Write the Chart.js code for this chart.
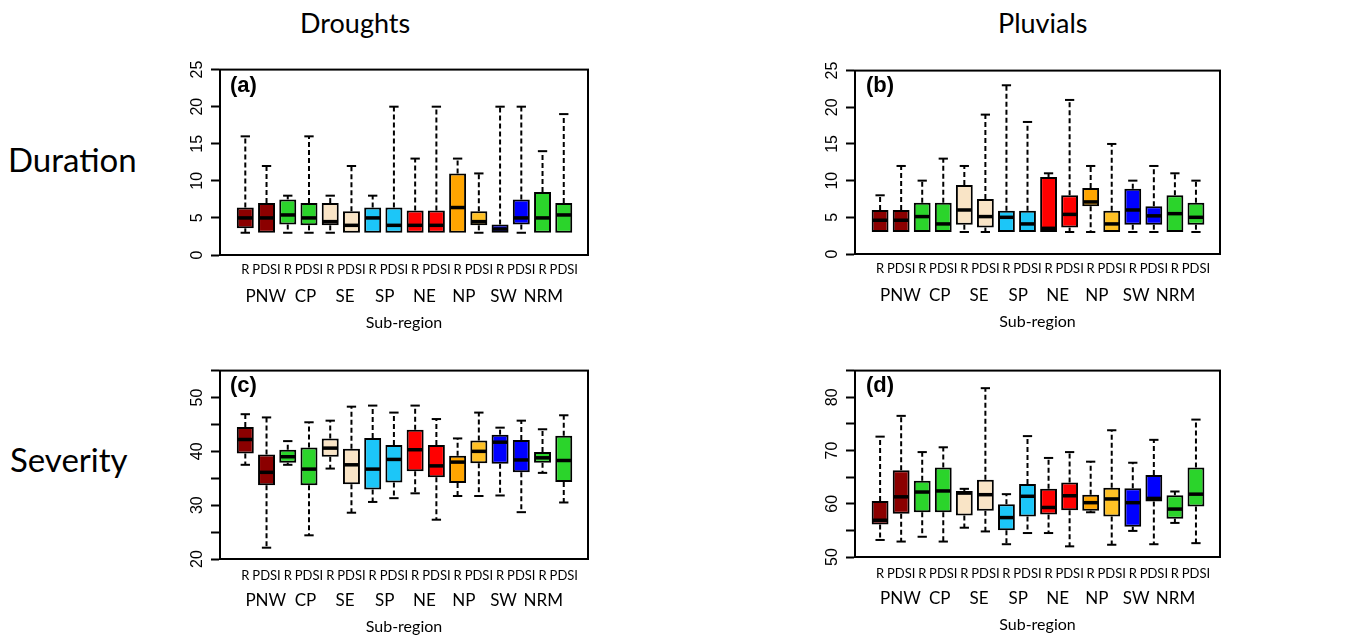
<!DOCTYPE html>
<html>
<head>
<meta charset="utf-8">
<script src="https://cdn.jsdelivr.net/npm/chart.js@4.4.1/dist/chart.umd.min.js"></script>
<style>
body { margin: 0; background: #fff; width: 1347px; height: 635px; overflow: hidden; position: relative; }
.lbl { position: absolute; font-family: Lato, 'Open Sans', sans-serif; color: #000; white-space: nowrap; line-height: 1; }
.tag { position: absolute; font: bold 22px 'Liberation Sans', Arial, sans-serif; color: #000; line-height: 1; }
canvas { position: absolute; }
</style>
</head>
<body>
<div class="lbl" style="left:300px;top:9px;font-size:27px">Droughts</div>
<div class="lbl" style="left:998px;top:9px;font-size:27px">Pluvials</div>
<div class="lbl" style="left:8px;top:143px;font-size:33px">Duration</div>
<div class="lbl" style="left:10px;top:443px;font-size:33px">Severity</div>

<canvas id="pa" width="450" height="285" style="left:150px;top:55px"></canvas>
<canvas id="pb" width="447" height="283" style="left:785px;top:56px"></canvas>
<canvas id="pc" width="450" height="288" style="left:150px;top:356px"></canvas>
<canvas id="pd" width="447" height="286" style="left:785px;top:356px"></canvas>

<div class="tag" style="left:230px;top:74px">(a)</div>
<div class="tag" style="left:866px;top:74px">(b)</div>
<div class="tag" style="left:230px;top:374px">(c)</div>
<div class="tag" style="left:866px;top:374px">(d)</div>

<script>
// Catégories
const regions = ['PNW', 'CP', 'SE', 'SP', 'NE', 'NP', 'SW', 'NRM'];
const indices = ['R', 'PDSI'];
const subLabels = regions.flatMap(() => indices);

// Couleurs des boîtes (R puis PDSI pour chaque sous-région)
const boxColors = [
    '#8B0000', '#8B0000', '#2BD42B', '#2BD42B', '#F9E4C6', '#F9E4C6', '#1CC6F8', '#1CC6F8',
    '#FF0000', '#FF0000', '#FFA500', '#FFC125', '#0000FF', '#0000FF', '#2BD42B', '#2BD42B'
];

// (a) Sécheresses - durée
const droughtDurLow  = [3, 3, 3, 3, 3, 3, 3, 3, 3, 3, 3, 3, 3, 3, 3, 3];
const droughtDurQ1   = [3.6, 3, 4.1, 4, 4, 3, 3, 3, 3, 3, 3, 4, 3, 4.1, 3, 3];
const droughtDurMed  = [5, 5, 5.4, 5, 4.5, 4, 5, 4, 4, 4, 6.4, 4.5, 3.5, 5, 5, 5.4];
const droughtDurQ3   = [6.4, 7, 7.5, 7, 7, 5.9, 6.4, 6.4, 6, 6, 11, 5.9, 4.1, 7.5, 8.5, 7];
const droughtDurHigh = [16, 12, 8, 16, 8, 12, 8, 20, 13, 20, 13, 11, 20, 20, 14, 19];

// (b) Pluviaux - durée
const pluvialDurLow  = [3, 3, 3, 3, 3, 3, 3, 3, 3, 3, 3, 3, 3, 3, 3, 3];
const pluvialDurQ1   = [3, 3, 3, 3, 4, 3.6, 3, 3, 3, 3.6, 6.5, 3, 4, 4, 3, 4];
const pluvialDurMed  = [4.6, 4.6, 5.1, 4.1, 6, 5.1, 5, 4.1, 3.5, 5.4, 7.1, 4.1, 6, 5.2, 5.5, 5];
const pluvialDurQ3   = [6, 6, 7, 7, 9.4, 7.5, 5.9, 5.9, 10.5, 8, 9, 5.9, 8.9, 6.5, 8, 7];
const pluvialDurHigh = [8, 12, 10, 13, 12, 19, 23, 18, 11, 21, 12, 15, 10, 12, 11, 10];

// (c) Sécheresses - sévérité
const droughtSevLow  = [37.5, 22.1, 37.5, 24.4, 36.8, 28.6, 30.6, 31.3, 32.2, 27.3, 31.7, 31.7, 31.8, 28.7, 36, 30.5];
const droughtSevQ1   = [39.6, 33.7, 37.9, 33.7, 39, 33.9, 32.9, 34.2, 36.3, 35.2, 34.1, 37.8, 37.7, 36.1, 37.9, 34.3];
const droughtSevMed  = [42.2, 36.1, 39, 36.7, 40.6, 37.5, 36.7, 38.5, 40.3, 37.3, 38, 40, 41.7, 38.4, 38.8, 38.3];
const droughtSevQ3   = [44.5, 39.4, 40.3, 40.7, 42.4, 40.5, 42.5, 41.2, 44, 41.2, 39.2, 42, 43.1, 42.1, 39.9, 42.9];
const droughtSevHigh = [46.9, 46.3, 41.9, 45.4, 45.7, 48.3, 48.5, 47.2, 48.5, 46, 42.4, 47.2, 44.4, 45.7, 44.1, 46.7];

// (d) Pluviaux - sévérité
const pluvialSevLow  = [53.2, 52.9, 53.8, 52.9, 55.5, 54.8, 52.4, 54.5, 54.5, 52, 58.4, 52.3, 54.9, 52.4, 56.4, 52.6];
const pluvialSevQ1   = [56.1, 58.1, 58.4, 58.4, 57.8, 58.7, 55, 57.6, 58, 58.8, 58.7, 57.6, 55.7, 60.4, 57.2, 59.5];
const pluvialSevMed  = [56.9, 61.3, 62.2, 62.4, 62, 61.7, 57.4, 61.4, 59.3, 61.5, 60.2, 60.9, 60.2, 61, 59, 61.8];
const pluvialSevQ3   = [60.5, 66.3, 64.3, 66.8, 62.4, 64.5, 59.9, 63.7, 62.8, 64, 61.7, 63, 62.9, 65.4, 61.6, 66.8];
const pluvialSevHigh = [72.6, 76.5, 69.7, 70.6, 62.8, 81.7, 61.8, 72.7, 68.6, 69.7, 67.9, 73.8, 67.7, 72, 62.3, 75.8];

// Limites de l'axe des sous-régions
const xMin = 0.35;
const xMax = 16.6;

// Moustaches, médianes et cadre dessinés avec les échelles du graphique
const boxPlotExtras = {
    id: 'boxPlotExtras',
    afterDatasetsDraw(chart, args, opts) {
        const { ctx, chartArea } = chart;
        const x = chart.scales.x;
        const y = chart.scales.y;
        ctx.save();
        ctx.strokeStyle = '#000';
        for (let i = 0; i < opts.meds.length; i++) {
            const cx = x.getPixelForValue(i + 1);
            const capL = x.getPixelForValue(i + 0.78);
            const capR = x.getPixelForValue(i + 1.22);
            const boxL = x.getPixelForValue(i + 0.6);
            const boxR = x.getPixelForValue(i + 1.4);
            const segs = [[opts.q3s[i], opts.highs[i]], [opts.q1s[i], opts.lows[i]]];
            segs.forEach(([from, to]) => {
                if (Math.abs(to - from) < 0.05) return;
                ctx.lineWidth = 2;
                ctx.setLineDash([5, 3]);
                ctx.beginPath();
                ctx.moveTo(cx, y.getPixelForValue(from));
                ctx.lineTo(cx, y.getPixelForValue(to));
                ctx.stroke();
                ctx.setLineDash([]);
                ctx.beginPath();
                ctx.moveTo(capL, y.getPixelForValue(to));
                ctx.lineTo(capR, y.getPixelForValue(to));
                ctx.stroke();
            });
            ctx.setLineDash([]);
            ctx.lineWidth = 3.5;
            ctx.beginPath();
            ctx.moveTo(boxL + 1, y.getPixelForValue(opts.meds[i]));
            ctx.lineTo(boxR - 1, y.getPixelForValue(opts.meds[i]));
            ctx.stroke();
        }
        ctx.lineWidth = 2;
        ctx.strokeRect(chartArea.left, chartArea.top, chartArea.right - chartArea.left, chartArea.bottom - chartArea.top);
        ctx.restore();
    }
};

function makePanel(id, yMin, yMax, labelStep, lows, q1s, meds, q3s, highs, subPad) {
    const ctx = document.getElementById(id).getContext('2d');
    return new Chart(ctx, {
        type: 'bar',
        data: {
            datasets: [{
                data: q1s.map((q, i) => ({ x: i + 1, y: [q, q3s[i]] })),
                backgroundColor: boxColors,
                borderColor: '#000',
                borderWidth: 2,
                borderSkipped: false,
                barPercentage: 0.8,
                categoryPercentage: 1.0
            }]
        },
        options: {
            responsive: false,
            animation: false,
            devicePixelRatio: 1,
            layout: { padding: { top: 10, right: 12, left: 0, bottom: 0 } },
            plugins: {
                legend: { display: false },
                tooltip: { enabled: false },
                boxPlotExtras: { lows, q1s, meds, q3s, highs }
            },
            scales: {
                x: {
                    type: 'linear',
                    position: 'bottom',
                    weight: 1,
                    min: xMin,
                    max: xMax,
                    grid: { display: false, drawTicks: false },
                    border: { display: false },
                    afterBuildTicks: s => { s.ticks = subLabels.map((_, i) => ({ value: i + 1 })); },
                    afterFit: s => { s.height = 26; },
                    ticks: {
                        autoSkip: false,
                        maxRotation: 0,
                        padding: subPad,
                        color: '#000',
                        font: { family: 'Lato, "Open Sans", sans-serif', size: 13 },
                        callback: v => subLabels[v - 1]
                    }
                },
                x2: {
                    type: 'linear',
                    axis: 'x',
                    position: 'bottom',
                    weight: 2,
                    min: xMin,
                    max: xMax,
                    grid: { display: false, drawTicks: false },
                    border: { display: false },
                    afterBuildTicks: s => { s.ticks = regions.map((_, i) => ({ value: 2 * i + 1.5 })); },
                    afterFit: s => { s.height = 59; },
                    ticks: {
                        autoSkip: false,
                        maxRotation: 0,
                        padding: 5,
                        color: '#000',
                        font: { family: 'Lato, "Open Sans", sans-serif', size: 17 },
                        callback: v => regions[(v - 1.5) / 2]
                    },
                    title: {
                        display: true,
                        text: 'Sub-region',
                        color: '#000',
                        padding: { top: 0, bottom: 8 },
                        font: { family: 'Lato, "Open Sans", sans-serif', size: 16 }
                    }
                },
                y: {
                    type: 'linear',
                    min: yMin,
                    max: yMax,
                    afterBuildTicks: s => {
                        const t = [];
                        for (let v = yMin; v <= yMax; v += 5) t.push({ value: v });
                        s.ticks = t;
                    },
                    afterFit: s => { s.width = 70; },
                    grid: { drawOnChartArea: false, drawTicks: true, tickLength: 9, tickWidth: 2, tickColor: '#000' },
                    border: { display: true, color: '#000', width: 2 },
                    ticks: {
                        minRotation: 90,
                        maxRotation: 90,
                        crossAlign: 'center',
                        padding: 5,
                        color: '#000',
                        font: { family: '"Liberation Sans", Arial, sans-serif', size: 16 },
                        callback: v => (v % labelStep === 0 && (labelStep === 5 || v < yMax)) ? String(v) : ''
                    }
                }
            }
        },
        plugins: [boxPlotExtras]
    });
}

makePanel('pa', 0, 25, 5, droughtDurLow, droughtDurQ1, droughtDurMed, droughtDurQ3, droughtDurHigh, 7);
makePanel('pb', 0, 25, 5, pluvialDurLow, pluvialDurQ1, pluvialDurMed, pluvialDurQ3, pluvialDurHigh, 7);
makePanel('pc', 20, 55, 10, droughtSevLow, droughtSevQ1, droughtSevMed, droughtSevQ3, droughtSevHigh, 9);
makePanel('pd', 50, 85, 10, pluvialSevLow, pluvialSevQ1, pluvialSevMed, pluvialSevQ3, pluvialSevHigh, 9);
</script>
</body>
</html>
